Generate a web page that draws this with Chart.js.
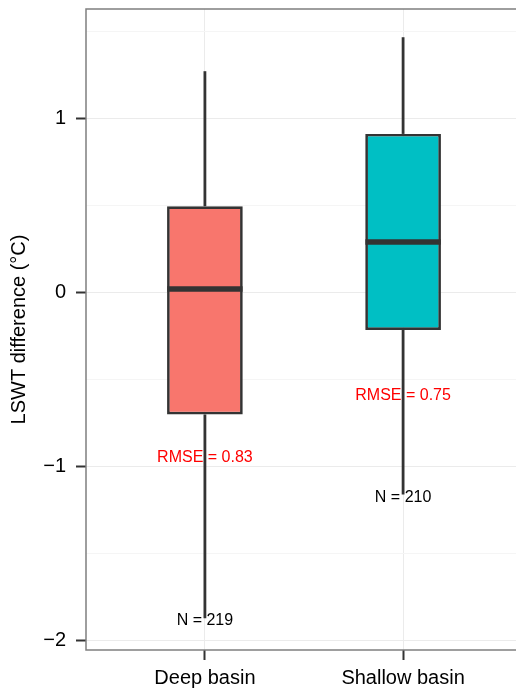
<!DOCTYPE html>
<html>
<head>
<meta charset="utf-8">
<script src="https://cdn.jsdelivr.net/npm/chart.js@4.4.0/dist/chart.umd.min.js"></script>
<style>
  html, body { margin: 0; padding: 0; overflow: hidden; background: #fff; }
  #wrap { position: relative; width: 522px; height: 689px; }
</style>
</head>
<body>
<div id="wrap"><canvas id="chart"></canvas></div>
<script>
// Boîtes à moustaches : valeurs
const categories = ['Deep basin', 'Shallow basin'];
const whiskerLow = [-1.87, -1.16];
const q1 = [-0.70, -0.215];
const median = [0.02, 0.29];
const q3 = [0.495, 0.91];
const whiskerHigh = [1.27, 1.465];
const boxColors = ['#F8766D', '#00BFC4'];

const rmseLabels = ['RMSE = 0.83', 'RMSE = 0.75'];
const rmseY = [-0.945, -0.59];
const nLabels = ['N = 219', 'N = 210'];
const nY = [-1.885, -1.18];

const yTicks = [-2, -1.5, -1, -0.5, 0, 0.5, 1, 1.5];
const xTicks = [1, 2];

const FONT = "'Liberation Sans', Arial, Helvetica, sans-serif";
const HALF = 0.19;

function isMajor (v) {
    return Math.abs(v - Math.round(v)) < 1e-6;
}

// Construction des jeux de données
const datasets = [];
datasets.push({
    type: 'bar',
    data: categories.map((c, i) => ({ x: i + 1, y: [q1[i], q3[i]] })),
    backgroundColor: boxColors,
    borderColor: '#333333',
    borderWidth: 2.7,
    borderSkipped: false,
    categoryPercentage: 1,
    barPercentage: 0.382,
    order: 1
});
categories.forEach((c, i) => {
    const segs = [[q3[i], whiskerHigh[i]], [q1[i], whiskerLow[i]]];
    segs.forEach(s => {
        datasets.push({
            type: 'line',
            data: [{ x: i + 1, y: s[0] }, { x: i + 1, y: s[1] }],
            borderColor: '#333333',
            borderWidth: 2.8,
            pointRadius: 0,
            order: 2
        });
    });
    datasets.push({
        type: 'line',
        data: [{ x: i + 1 - HALF, y: median[i] }, { x: i + 1 + HALF, y: median[i] }],
        borderColor: '#333333',
        borderWidth: 5.5,
        pointRadius: 0,
        order: 0
    });
});

// Cadre du panneau + étiquettes texte
const panelPlugin = {
    id: 'panel',
    afterDatasetsDraw (chart) {
        const { ctx, chartArea: a, scales } = chart;
        ctx.save();
        ctx.strokeStyle = '#7f7f7f';
        ctx.lineWidth = 1.5;
        ctx.strokeRect(a.left, a.top, a.right - a.left, a.bottom - a.top);
        ctx.font = '16px ' + FONT;
        ctx.textAlign = 'center';
        ctx.textBaseline = 'middle';
        categories.forEach((c, i) => {
            const x = scales.x.getPixelForValue(i + 1);
            ctx.fillStyle = '#ff0000';
            ctx.fillText(rmseLabels[i], x, scales.y.getPixelForValue(rmseY[i]));
            ctx.fillStyle = '#000000';
            ctx.fillText(nLabels[i], x, scales.y.getPixelForValue(nY[i]));
        });
        ctx.restore();
    }
};

new Chart(document.getElementById('chart'), {
    type: 'bar',
    data: { datasets: datasets },
    plugins: [panelPlugin],
    options: {
        responsive: true,
        maintainAspectRatio: false,
        animation: false,
        layout: { padding: { top: 9, left: 0, right: 0, bottom: 0 } },
        plugins: { legend: { display: false }, tooltip: { enabled: false } },
        scales: {
            x: {
                type: 'linear',
                min: 0.4,
                max: 2.6,
                offset: false,
                afterBuildTicks: s => { s.ticks = xTicks.map(v => ({ value: v })); },
                afterFit: s => { s.height = 39; s.paddingLeft = 0; s.paddingRight = 0; },
                border: { display: false },
                grid: {
                    offset: false,
                    color: '#ebebeb',
                    lineWidth: 1,
                    tickColor: '#333333',
                    tickWidth: 2,
                    tickLength: 10
                },
                ticks: {
                    autoSkip: false,
                    maxRotation: 0,
                    padding: 6,
                    color: '#000000',
                    font: { family: FONT, size: 20 },
                    callback: v => categories[Math.round(v) - 1] || ''
                }
            },
            y: {
                min: -2.052,
                max: 1.627,
                afterBuildTicks: s => { s.ticks = yTicks.map(v => ({ value: v })); },
                afterFit: s => { s.width = 86; s.paddingTop = 0; s.paddingBottom = 0; },
                border: { display: false },
                grid: {
                    color: c => isMajor(c.tick.value) ? '#ebebeb' : '#f5f5f5',
                    lineWidth: 1,
                    tickColor: c => isMajor(c.tick.value) ? '#333333' : 'rgba(0,0,0,0)',
                    tickWidth: 2,
                    tickLength: 10
                },
                ticks: {
                    autoSkip: false,
                    padding: 10,
                    color: '#000000',
                    font: { family: FONT, size: 20 },
                    callback: v => isMajor(v) ? String(Math.round(v)).replace('-', '\u2212') : ''
                },
                title: {
                    display: true,
                    text: 'LSWT difference (°C)',
                    color: '#000000',
                    font: { family: FONT, size: 20 },
                    padding: { top: 7, bottom: 0 }
                }
            }
        }
    }
});
</script>
</body>
</html>
